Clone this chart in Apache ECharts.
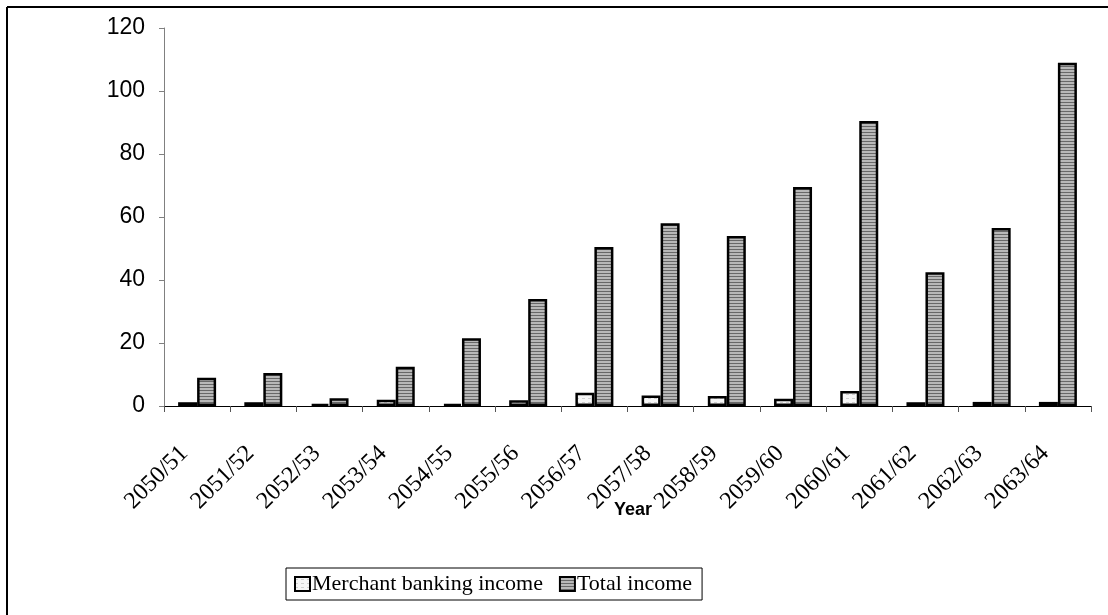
<!DOCTYPE html>
<html>
<head>
<meta charset="utf-8">
<script src="https://cdn.jsdelivr.net/npm/echarts@6/dist/echarts.min.js"></script>
<style>
  html, body { margin: 0; padding: 0; background: #fff; }
  #chart { width: 1108px; height: 615px; }
</style>
</head>
<body>
<div id="chart"></div>
<script>
// Fiscal years on the category axis
const years = ['2050/51', '2051/52', '2052/53', '2053/54', '2054/55', '2055/56', '2056/57',
               '2057/58', '2058/59', '2059/60', '2060/61', '2061/62', '2062/63', '2063/64'];
// Income figures per year
const merchantBankingIncome = [1.2, 1.2, 0.7, 2.0, 0.6, 1.8, 4.2, 3.3, 3.2, 2.3, 4.8, 1.2, 1.3, 1.3];
const totalIncome = [9.0, 10.5, 2.5, 12.5, 21.5, 34.0, 50.5, 58.0, 54.0, 69.5, 90.5, 42.5, 56.5, 109.0];
// Value axis ticks
const yTicks = [0, 20, 40, 60, 80, 100, 120];

// Horizontal stripe fill for the total-income bars
function stripePattern() {
  const c = document.createElement('canvas');
  c.width = 4; c.height = 3;
  const g = c.getContext('2d');
  g.fillStyle = '#b8b8b8'; g.fillRect(0, 0, 4, 3);
  g.fillStyle = '#686868'; g.fillRect(0, 0, 4, 1);
  return c;
}
// Light speckled fill for the merchant-banking bars
function lightPattern() {
  const c = document.createElement('canvas');
  c.width = 6; c.height = 4;
  const g = c.getContext('2d');
  g.fillStyle = '#f6f6f6'; g.fillRect(0, 0, 6, 4);
  g.fillStyle = '#d0d0d0'; g.fillRect(0, 2, 3, 1);
  return c;
}

const chart = echarts.init(document.getElementById('chart'), null, { renderer: 'canvas' });
chart.setOption({
  backgroundColor: '#fff',
  animation: false,
  graphic: [
    { type: 'line', shape: { x1: 7, y1: 7, x2: 1108, y2: 7 }, style: { stroke: '#000', lineWidth: 2 } },
    { type: 'line', shape: { x1: 7, y1: 7, x2: 7, y2: 615 }, style: { stroke: '#000', lineWidth: 2 } },
    // Category axis title
    {
      type: 'text', x: 633, y: 510,
      style: {
        text: 'Year', fill: '#000', align: 'center', verticalAlign: 'middle',
        font: 'bold 18px "Liberation Sans"'
      }
    }
  ],
  grid: { left: 164, right: 17, top: 28, bottom: 209, containLabel: false },
  legend: {
    left: 286, top: 568,
    padding: [5, 10, 5, 8],
    borderColor: '#000', borderWidth: 1,
    itemWidth: 15, itemHeight: 14, itemGap: 16,
    icon: 'rect',
    itemStyle: { borderColor: '#000', borderWidth: 2 },
    textStyle: { fontFamily: 'Liberation Serif', fontSize: 22, color: '#000', padding: [0, 0, 0, -3] },
    data: ['Merchant banking income', 'Total income']
  },
  xAxis: {
    type: 'category',
    data: years,
    axisLine: { lineStyle: { color: '#000', width: 1 } },
    axisTick: { show: true, length: 6, lineStyle: { color: '#555' } },
    axisLabel: {
      rotate: 45, margin: 31, interval: 0,
      padding: [0, 18, 0, 0],
      fontFamily: 'Liberation Serif', fontSize: 24, color: '#000'
    }
  },
  yAxis: {
    type: 'value',
    min: yTicks[0], max: yTicks[yTicks.length - 1], interval: yTicks[1] - yTicks[0],
    axisLine: { show: true, lineStyle: { color: '#808080', width: 1 } },
    axisTick: { show: true, length: 5, lineStyle: { color: '#808080' } },
    splitLine: { show: false },
    axisLabel: { margin: 19, fontFamily: 'Liberation Sans', fontSize: 23, color: '#000' }
  },
  series: [
    {
      name: 'Merchant banking income',
      type: 'bar',
      data: merchantBankingIncome,
      barWidth: 19,
      barGap: '0%',
      itemStyle: { color: { image: lightPattern(), repeat: 'repeat' }, borderColor: '#000', borderWidth: 2.5 }
    },
    {
      name: 'Total income',
      type: 'bar',
      data: totalIncome,
      barWidth: 19,
      itemStyle: { color: { image: stripePattern(), repeat: 'repeat' }, borderColor: '#000', borderWidth: 2.5 }
    }
  ]
});
</script>
</body>
</html>
